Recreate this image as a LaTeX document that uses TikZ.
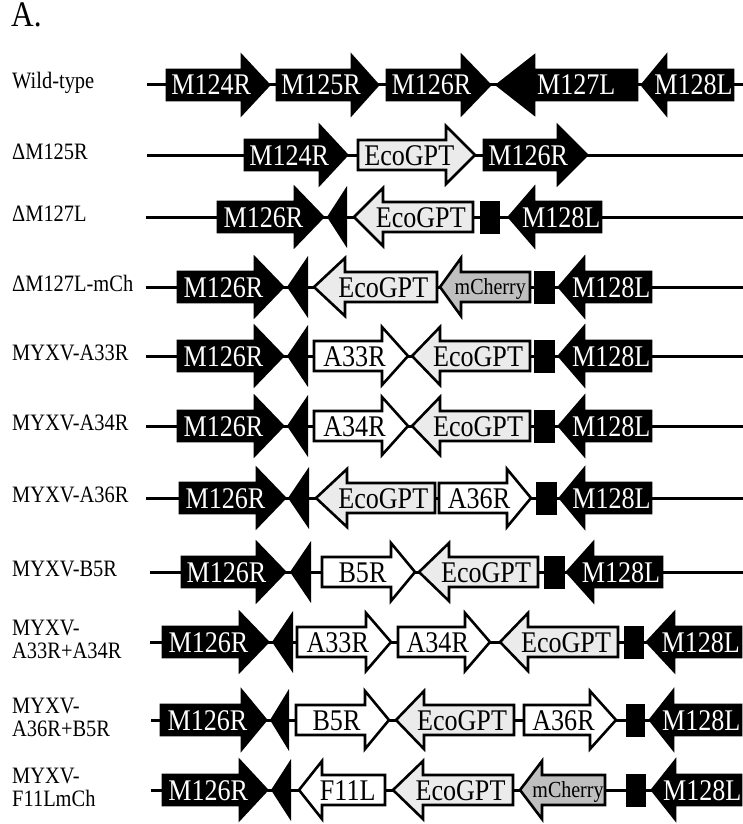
\documentclass[tikz,border=0pt]{standalone}
\usepackage{fontspec}
\setmainfont{Liberation Serif}[FakeStretch=0.87]

% gene arrow: style, name, tail, head base, tip, label
\newcommand{\drawgene}[6]{%
  \draw[#1] (#3,-15) -- (#4,-15) -- (#4,-29) -- (#5,0) -- (#4,29) -- (#4,15) -- (#3,15) -- cycle;
  \node[#1 txt] (#2) at ({(#3+(#4+#5)/2)/2},0) {#6};}
% M127L remnant: tip, base
\newcommand{\drawstub}[2]{\fill (#1,0) -- (#2,-31) -- (#2,31) -- cycle;}
% small black box
\newcommand{\drawgap}[2]{\fill (#1,-16.5) rectangle (#2,16.5);}

\begin{document}
\begin{tikzpicture}[x=1pt, y=-1pt,
  bb/.style={line width=3pt},
  blk/.style={fill=black, draw=black, line width=2.6pt},
  eco/.style={fill=black!8, draw=black, line width=2.6pt},
  chy/.style={fill=black!25, draw=black, line width=2.6pt},
  wht/.style={fill=white, draw=black, line width=2.6pt},
  gtxt/.style={anchor=base, yshift=-10pt, inner sep=0pt, font=\fontsize{30}{30}\selectfont},
  blk txt/.style={gtxt, text=white},
  eco txt/.style={gtxt},
  wht txt/.style={gtxt},
  chy txt/.style={gtxt, yshift=2.5pt, font=\fontsize{23}{23}\selectfont},
  lbl/.style={anchor=base west, inner sep=0pt, font=\fontsize{23.5}{23}\selectfont},
  lbl2/.style={anchor=west, align=left, inner sep=0pt, font=\fontsize{23.5}{23}\selectfont}]
\useasboundingbox (0,0) rectangle (743,824);

\node[anchor=base west, inner sep=0pt, font=\fontsize{36}{36}\selectfont] (title) at (11,27) {A.};

%Wild-type
\begin{scope}[yshift=-85pt]
\node[lbl] (l1) at (12,4) {Wild-type};
\coordinate (a1) at (147,0); \coordinate (b1) at (743,0);
\draw[bb] (a1) -- (b1);
\drawgene{blk}{w124}{167}{242}{269}{M124R}
\drawgene{blk}{w125}{277}{352}{378}{M125R}
\drawgene{blk}{w126}{387}{462}{490}{M126R}
\drawgene{blk}{w127}{637}{534}{497}{M127L}
\drawgene{blk}{w128}{733}{666}{642}{M128L}
\end{scope}

%dM125R
\begin{scope}[yshift=-155pt]
\node[lbl] (l2) at (12,4) {ΔM125R};
\coordinate (a2) at (147,0); \coordinate (b2) at (743,0);
\draw[bb] (a2) -- (b2);
\drawgene{blk}{d124}{245}{320}{347}{M124R}
\drawgene{eco}{deco}{358}{446}{475}{EcoGPT}
\drawgene{blk}{d126}{484}{558}{587}{M126R}
\end{scope}

%dM127L
\begin{scope}[yshift=-217pt]
\node[lbl] (l3) at (12,4) {ΔM127L};
\coordinate (a3) at (146,0); \coordinate (b3) at (743,0);
\draw[bb] (a3) -- (b3);
\drawgene{blk}{e126}{218}{295}{323}{M126R}
\drawstub{327}{347}
\drawgene{eco}{eeco}{473}{383}{354}{EcoGPT}
\drawgap{480}{500}
\drawgene{blk}{e128}{601}{534}{509}{M128L}
\end{scope}

%dM127L-mCh
\begin{scope}[yshift=-287pt]
\node[lbl] (l4) at (12,4) {ΔM127L-mCh};
\coordinate (a4) at (146,0); \coordinate (b4) at (743,0);
\draw[bb] (a4) -- (b4);
\drawgene{blk}{f126}{178}{255}{283}{M126R}
\drawstub{287}{308}
\drawgene{eco}{feco}{437}{345}{314}{EcoGPT}
\drawgene{chy}{fchy}{530}{461}{440}{mCherry}
\drawgap{534}{555}
\drawgene{blk}{f128}{651}{584}{559}{M128L}
\end{scope}

%MYXV-A33R
\begin{scope}[yshift=-356pt]
\node[lbl] (l5) at (12,4) {MYXV-A33R};
\coordinate (a5) at (146,0); \coordinate (b5) at (743,0);
\draw[bb] (a5) -- (b5);
\drawgene{blk}{g126}{178}{255}{283}{M126R}
\drawstub{287}{308}
\drawgene{wht}{g33}{314}{382}{408}{A33R}
\drawgene{eco}{geco}{530}{440}{412}{EcoGPT}
\drawgap{534}{555}
\drawgene{blk}{g128}{651}{584}{559}{M128L}
\end{scope}

%MYXV-A34R
\begin{scope}[yshift=-426pt]
\node[lbl] (l6) at (12,4) {MYXV-A34R};
\coordinate (a6) at (146,0); \coordinate (b6) at (743,0);
\draw[bb] (a6) -- (b6);
\drawgene{blk}{h126}{178}{255}{283}{M126R}
\drawstub{287}{308}
\drawgene{wht}{h34}{314}{382}{408}{A34R}
\drawgene{eco}{heco}{530}{440}{412}{EcoGPT}
\drawgap{534}{555}
\drawgene{blk}{h128}{651}{584}{559}{M128L}
\end{scope}

%MYXV-A36R
\begin{scope}[yshift=-498pt]
\node[lbl] (l7) at (12,4) {MYXV-A36R};
\coordinate (a7) at (146,0); \coordinate (b7) at (743,0);
\draw[bb] (a7) -- (b7);
\drawgene{blk}{i126}{180}{257}{285}{M126R}
\drawstub{288}{309}
\drawgene{eco}{ieco}{435}{347}{316}{EcoGPT}
\drawgene{wht}{i36}{439}{507}{531}{A36R}
\drawgap{536}{557}
\drawgene{blk}{i128}{651}{584}{560}{M128L}
\end{scope}

%MYXV-B5R
\begin{scope}[yshift=-572pt]
\node[lbl] (l8) at (12,4) {MYXV-B5R};
\coordinate (a8) at (150,0); \coordinate (b8) at (743,0);
\draw[bb] (a8) -- (b8);
\drawgene{blk}{j126}{182}{257}{285}{M126R}
\drawstub{290}{311}
\drawgene{wht}{j5}{322}{391}{415}{B5R}
\drawgene{eco}{jeco}{538}{449}{419}{EcoGPT}
\drawgap{544}{565}
\drawgene{blk}{j128}{662}{593}{567}{M128L}
\end{scope}

%MYXV-A33R+A34R
\begin{scope}[yshift=-642pt]
\node[lbl2] (l9) at (12,-3) {MYXV-\\A33R+A34R};
\coordinate (a9) at (150,0); \coordinate (b9) at (741,0);
\draw[bb] (a9) -- (b9);
\drawgene{blk}{k126}{163}{240}{268}{M126R}
\drawstub{272}{293}
\drawgene{wht}{k33}{297}{366}{391}{A33R}
\drawgene{wht}{k34}{398}{465}{490}{A34R}
\drawgene{eco}{keco}{618}{528}{500}{EcoGPT}
\drawgap{624}{644}
\drawgene{blk}{k128}{741}{674}{647}{M128L}
\end{scope}

%MYXV-A36R+B5R
\begin{scope}[yshift=-720pt]
\node[lbl2] (l10) at (12,-3) {MYXV-\\A36R+B5R};
\coordinate (a10) at (151,0); \coordinate (b10) at (741,0);
\draw[bb] (a10) -- (b10);
\drawgene{blk}{m126}{161}{242}{266}{M126R}
\drawstub{270}{289}
\drawgene{wht}{m5}{296}{365}{389}{B5R}
\drawgene{eco}{meco}{514}{424}{396}{EcoGPT}
\drawgene{wht}{m36}{524}{590}{616}{A36R}
\drawgap{626}{645}
\drawgene{blk}{m128}{741}{673}{650}{M128L}
\end{scope}

%MYXV-F11LmCh
\begin{scope}[yshift=-790pt]
\node[lbl2] (l11) at (12,-3) {MYXV-\\F11LmCh};
\coordinate (a11) at (151,0); \coordinate (b11) at (741,0);
\draw[bb] (a11) -- (b11);
\drawgene{blk}{n126}{163}{240}{267}{M126R}
\drawstub{271}{291}
\drawgene{wht}{n11}{385}{322}{299}{F11L}
\drawgene{eco}{neco}{513}{423}{393}{EcoGPT}
\drawgene{chy}{nchy}{605}{542}{520}{mCherry}
\drawgap{626}{646}
\drawgene{blk}{n128}{741}{675}{652}{M128L}
\end{scope}
\end{tikzpicture}
\end{document}
